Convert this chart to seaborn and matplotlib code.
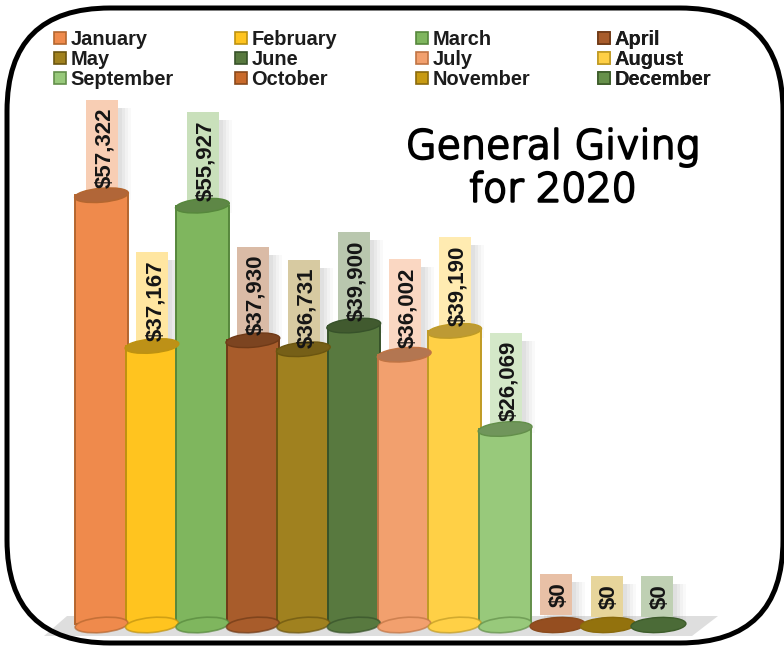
import matplotlib
matplotlib.use('Agg')
import matplotlib.pyplot as plt
import matplotlib.patheffects as pe
from matplotlib.colors import to_rgb
from matplotlib.patches import Ellipse, FancyBboxPatch, Patch, Polygon, Rectangle
from matplotlib.transforms import IdentityTransform
import pandas as pd
import seaborn as sns

months = ['January', 'February', 'March', 'April', 'May', 'June', 'July',
          'August', 'September', 'October', 'November', 'December']
giving = [57322, 37167, 55927, 37930, 36731, 39900, 36002, 39190, 26069, 0, 0, 0]
labels = ['$57,322', '$37,167', '$55,927', '$37,930', '$36,731', '$39,900',
          '$36,002', '$39,190', '$26,069', '$0', '$0', '$0']
colors = ['#EF8A4C', '#FFC41F', '#7FB65E', '#A85C2B', '#A0811F', '#58793F',
          '#F2A06E', '#FFD046', '#98C97B', '#C96A2B', '#C79A12', '#66904A']
edges = ['#B4662F', '#BE9210', '#56873C', '#6F3A17', '#6B5510', '#37522A',
         '#C07444', '#C09B25', '#638F4A', '#8A4A1C', '#8A6A0C', '#3C5C2A']

W, H = 784, 647
sns.set_theme(style='white')
plt.rcParams['font.family'] = ['Liberation Sans', 'DejaVu Sans']

df = pd.DataFrame({'month': months, 'giving': giving})

fig = plt.figure(figsize=(W / 100, H / 100), dpi=100)
ax = fig.add_axes([0, 0, 1, 1])
sns.barplot(data=df, x='month', y='giving', hue='month', order=months, palette=colors,
            width=1.04, dodge=False, legend=False, saturation=1, ax=ax, zorder=3)
# pixel x = 101.5 + 50.45 * i, pixel y from top = 624 - 0.00748 * value
ax.set_xlim(-101.5 / 50.45, (W - 101.5) / 50.45)
ax.set_ylim(-(H - 624) / 0.00748, 624 / 0.00748)
ax.axis('off')
for bar, e in zip(ax.patches, edges):
    bar.set_edgecolor(e)
    bar.set_linewidth(1.4)


def px(x, y):
    # picture pixels (y from top) to display coordinates
    return (x, H - y)


# floor
ax.add_patch(Polygon([px(44, 636), px(67, 616), px(718, 616), px(692, 636)],
                     closed=True, facecolor='#DEDEDE', edgecolor='none',
                     transform=IdentityTransform(), zorder=0))

renderer = fig.canvas.get_renderer()
label_offset = [7, 5, 5, 5, 1, 5, 7, 5, 8, 17, 15, 15]
for i, (val, lab, c, e) in enumerate(zip(giving, labels, colors, edges)):
    cx, cy = ax.transData.transform((i, val))
    base_x, base_y = ax.transData.transform((i, 0))
    rgb = to_rgb(c)
    dark = tuple(v * 0.74 for v in rgb)

    t = ax.annotate(lab, xy=(i, val), xytext=(2.4, label_offset[i] * 0.72), textcoords='offset points',
                    rotation=90, ha='center', va='bottom', fontsize=16, fontweight='bold',
                    color='#151515', zorder=6)
    ext = t.get_window_extent(renderer)
    top = ext.y1 + 8
    bottom = ext.y0 - 8
    left = cx - 15.5

    # soft shadow then pale label box
    for k, a in zip([13, 10, 7, 4], [0.03, 0.04, 0.05, 0.06]):
        ax.add_patch(Rectangle((left + k, bottom - 4), 32, top - bottom - 4, facecolor='#555555',
                               edgecolor='none', alpha=a, transform=IdentityTransform(), zorder=1))
    pale = tuple(v * 0.42 + 0.58 for v in rgb)
    ax.add_patch(Rectangle((left, bottom), 32, top - bottom, facecolor=pale, edgecolor='none',
                           transform=IdentityTransform(), zorder=1.5))

    if val > 0:
        # bottom cap drawn over the bar foot, then the top cap
        ax.add_patch(Ellipse((base_x, base_y - 1), 53, 15, angle=5, facecolor=c,
                             edgecolor=(*to_rgb(e), 0.7), lw=1.2,
                             transform=IdentityTransform(), zorder=4))
        ax.add_patch(Ellipse((cx, cy), 54, 14, angle=5, facecolor=dark, edgecolor=e, lw=1.0,
                             transform=IdentityTransform(), zorder=5))
    else:
        ax.add_patch(Ellipse((cx + 2, cy - 1), 55, 15, angle=3, facecolor=dark, edgecolor=e, lw=1.0,
                             transform=IdentityTransform(), zorder=5))

# legend: one legend per column, four across
col_x = [54, 235, 416, 598]
for col, x0 in enumerate(col_x):
    idx = [col, col + 4, col + 8]
    handles = [Patch(facecolor=colors[j], edgecolor=edges[j], linewidth=1.2) for j in idx]
    leg = ax.legend(handles, [months[j] for j in idx], loc='upper left',
                    bbox_to_anchor=(x0 / W, 1 - 30 / H), bbox_transform=fig.transFigure,
                    frameon=False, borderpad=0, borderaxespad=0, handlelength=0.6,
                    handleheight=0.6, handletextpad=0.22, labelspacing=0.05,
                    prop={'size': 14.4, 'weight': 'bold'}, labelcolor='#1C1C1C')
    leg.set_zorder(7)
    ax.add_artist(leg)

# title
title_fx = [pe.withStroke(linewidth=1.8, foreground='black', capstyle='round', joinstyle='round')]
for line, y in zip(['General Giving', 'for 2020'], [147, 190]):
    fig.text(553 / W, 1 - y / H, line, ha='center', va='center', fontsize=28.5,
             family='DejaVu Sans', fontweight=200, color='black', path_effects=title_fx, zorder=8)

# rounded frame
r = 103
frame = FancyBboxPatch((7 + r, H - 643 + r), 776 - 2 * r, 635 - 2 * r,
                       boxstyle=f'round,pad={r},rounding_size={r}', facecolor='none',
                       edgecolor='black', lw=3.6, transform=IdentityTransform(), zorder=9)
ax.add_patch(frame)

fig.savefig('out.png', dpi=100)
